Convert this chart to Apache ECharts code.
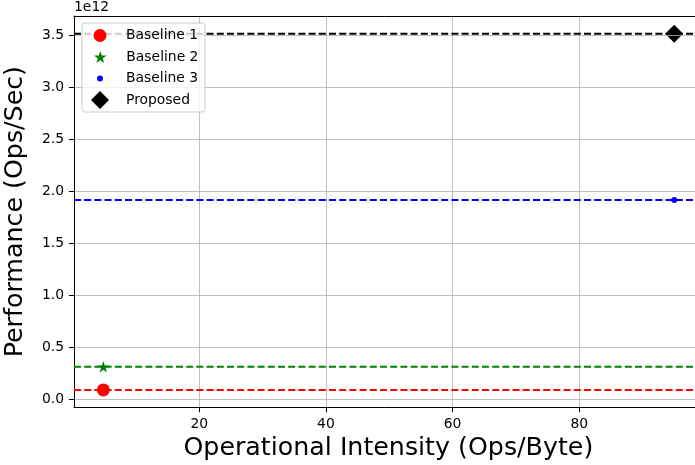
<!DOCTYPE html>
<html><head><meta charset="utf-8">
<script src="https://cdn.jsdelivr.net/npm/echarts@6/dist/echarts.min.js"></script>
<style>html,body{margin:0;padding:0;background:#fff}#c{width:695px;height:465px}</style>
</head><body><div id="c"></div>
<script>
const seriesNames = ['Baseline 1', 'Baseline 2', 'Baseline 3', 'Proposed'];
const intensity = [4.85, 4.85, 95, 95];
const performance = [0.087e12, 0.31e12, 1.913e12, 3.512e12];
const colors = ['#ff0000', '#008000', '#0000ff', '#000000'];
const xTicks = [20, 40, 60, 80];
const yTicks = [0, 0.5e12, 1.0e12, 1.5e12, 2.0e12, 2.5e12, 3.0e12, 3.5e12];
const X_MIN = 0.22, X_MAX = 99.5;
const Y_MIN = -0.0798e12, Y_MAX = 3.6827e12;
const FONT = 'DejaVu Sans';

function starPath() {
  const pts = [];
  for (let i = 0; i < 10; i++) {
    const r = i % 2 === 0 ? 1 : 0.381966;
    const a = -Math.PI / 2 + i * Math.PI / 5;
    pts.push((r * Math.cos(a)).toFixed(4) + ',' + (r * Math.sin(a)).toFixed(4));
  }
  return 'path://M' + pts.join('L') + 'Z';
}
const symbols = ['circle', starPath(), 'circle', 'path://M0,-1L1,0L0,1L-1,0Z'];
const symbolSizes = [13, 12, 6, 18];
const legendRows = [35.5, 57, 78.5, 100];

const chart = echarts.init(document.getElementById('c'), null, {renderer: 'canvas'});

const scatterSeries = seriesNames.map((n, i) => ({
  name: n, type: 'scatter', z: -1,
  data: [[intensity[i], performance[i]]],
  symbol: symbols[i], symbolSize: symbolSizes[i], symbolKeepAspect: true,
  itemStyle: {color: colors[i], opacity: 1},
  emphasis: {disabled: true}, silent: true
}));
const lineSeries = seriesNames.map((n, i) => ({
  name: n, type: 'line', z: 3, silent: true,
  data: [[X_MIN, performance[i]], [X_MAX, performance[i]]],
  symbol: 'none', showSymbol: false,
  lineStyle: {color: colors[i], width: 2, type: [7, 3.2]},
  emphasis: {disabled: true}
}));

const legends = seriesNames.map((n, i) => {
  const h = symbolSizes[i];
  return {
    data: [{name: n, icon: symbols[i]}],
    orient: 'vertical', left: 100 - h / 2, top: legendRows[i] - Math.max(h, 14) / 2,
    padding: 0, itemWidth: 42, itemHeight: h, symbolKeepAspect: true,
    selectedMode: false, z: 110,
    textStyle: {fontFamily: FONT, fontSize: 13.9, color: '#000', lineHeight: 14}
  };
});

const axisCommon = {
  axisLine: {show: true, onZero: false, lineStyle: {color: '#000', width: 1}},
};

chart.setOption({
  animation: false,
  backgroundColor: '#fff',
  grid: {left: 74, top: 16, right: -7.7, bottom: 57.7, containLabel: false, outerBoundsMode: 'none', show: false},
  legend: legends,
  graphic: [
    {type: 'rect', z: 100, shape: {x: 82, y: 23, width: 123, height: 89, r: 3},
     style: {fill: 'rgba(255,255,255,0.8)', stroke: '#cccccc', lineWidth: 1}},
    {type: 'text', z: 100, style: {text: '1e12', x: 74, y: 7, verticalAlign: 'middle', fontFamily: FONT, fontSize: 13.9, fill: '#000'}}
  ],
  xAxis: [
    Object.assign({}, axisCommon, {
      type: 'value', position: 'bottom', min: X_MIN, max: X_MAX,
      axisTick: {show: true, length: 5, customValues: xTicks, lineStyle: {color: '#000', width: 1}},
      axisLabel: {customValues: xTicks, margin: 10, fontFamily: FONT, fontSize: 13.9, color: '#000'},
      splitLine: {show: true, lineStyle: {color: '#b0b0b0', width: 0.8}},
      name: 'Operational Intensity (Ops/Byte)', nameLocation: 'middle', nameGap: 26,
      nameTextStyle: {fontFamily: FONT, fontSize: 25.3, color: '#000'}
    }),
    Object.assign({}, axisCommon, {
      type: 'value', position: 'top', min: X_MIN, max: X_MAX,
      axisTick: {show: false}, axisLabel: {show: false}, splitLine: {show: false}
    })
  ],
  yAxis: Object.assign({}, axisCommon, {
    type: 'value', min: Y_MIN, max: Y_MAX,
    axisTick: {show: true, length: 5, customValues: yTicks, lineStyle: {color: '#000', width: 1}},
    axisLabel: {customValues: yTicks, margin: 10, fontFamily: FONT, fontSize: 13.9, color: '#000',
      formatter: v => (v / 1e12).toFixed(1)},
    splitLine: {show: true, lineStyle: {color: '#b0b0b0', width: 0.8}},
    name: 'Performance (Ops/Sec)', nameLocation: 'middle', nameGap: 46,
    nameTextStyle: {fontFamily: FONT, fontSize: 25.3, color: '#000'}
  }),
  series: scatterSeries.concat(lineSeries)
});
</script></body></html>
